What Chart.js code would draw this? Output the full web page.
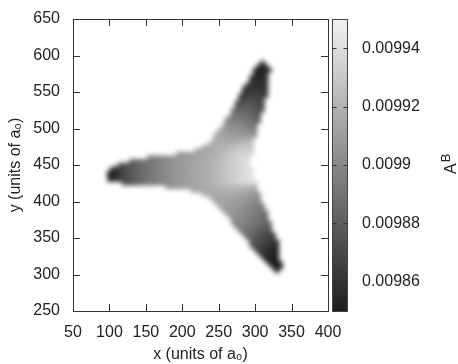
<!DOCTYPE html>
<html>
<head>
<meta charset="utf-8">
<script src="https://cdn.jsdelivr.net/npm/chart.js@4.4.1/dist/chart.umd.min.js"></script>
<style>
  html, body { margin: 0; padding: 0; background: #fff; }
  #wrap { width: 458px; height: 364px; }
</style>
</head>
<body>
<div id="wrap"><canvas id="map" width="458" height="364"></canvas></div>
<script>
// A^B map on a regular grid: one row per y (units of a0), cells every 5 in x.
// Values are A^B in units of 1e-6.
const cellStep = 5;
const rowY = [590, 585, 580, 575, 570, 565, 560, 555, 550, 545, 540, 535, 530, 525, 520, 515,
              510, 505, 500, 495, 490, 485, 480, 475, 470, 465, 460, 455, 450, 445, 440, 435,
              430, 425, 420, 415, 410, 405, 400, 395, 390, 385, 380, 375, 370, 365, 360, 355,
              350, 345, 340, 335, 330, 325, 320, 315, 310, 305];
const rowX0 = [310, 305, 300, 300, 295, 295, 290, 285, 285, 280, 280, 275, 275, 270, 270, 265,
               260, 260, 255, 250, 245, 245, 240, 230, 220, 195, 155, 130, 115, 105, 100, 100,
               100, 120, 180, 215, 230, 240, 245, 250, 255, 260, 265, 270, 270, 275, 280, 285,
               290, 295, 295, 300, 305, 310, 315, 320, 325, 330];
const rowValues = [
  [9852],
  [9853, 9852, 9853],
  [9854, 9852, 9852, 9853, 9855],
  [9854, 9853, 9853, 9854],
  [9856, 9855, 9854, 9855, 9856],
  [9858, 9857, 9856, 9856, 9857],
  [9859, 9859, 9858, 9858, 9858, 9859],
  [9858, 9860, 9861, 9860, 9860, 9860, 9861],
  [9858, 9860, 9863, 9864, 9863, 9862, 9862],
  [9860, 9862, 9866, 9868, 9867, 9865, 9864, 9863],
  [9864, 9867, 9871, 9872, 9870, 9868, 9866],
  [9868, 9870, 9874, 9876, 9875, 9872, 9870, 9868],
  [9876, 9876, 9878, 9880, 9879, 9876, 9873, 9870],
  [9883, 9883, 9883, 9884, 9883, 9880, 9877, 9874, 9871],
  [9888, 9888, 9888, 9887, 9885, 9882, 9879, 9876],
  [9894, 9893, 9892, 9891, 9890, 9888, 9885, 9882, 9879],
  [9900, 9899, 9897, 9896, 9895, 9893, 9891, 9888, 9885, 9883],
  [9904, 9903, 9901, 9900, 9899, 9897, 9895, 9893, 9890],
  [9908, 9907, 9906, 9904, 9903, 9902, 9900, 9899, 9897, 9894],
  [9912, 9911, 9910, 9908, 9907, 9906, 9905, 9904, 9903, 9902, 9900],
  [9915, 9914, 9913, 9912, 9911, 9910, 9909, 9908, 9908, 9908, 9908, 9907],
  [9916, 9916, 9915, 9914, 9913, 9913, 9913, 9914, 9915, 9917, 9918],
  [9917, 9917, 9917, 9916, 9916, 9916, 9917, 9918, 9920, 9922, 9924, 9926],
  [9914, 9915, 9916, 9917, 9918, 9920, 9922, 9924, 9926, 9928, 9930, 9931, 9930, 9928],
  [9912, 9913, 9914, 9915, 9916, 9917, 9918, 9920, 9922, 9924, 9926, 9928, 9930, 9932, 9933, 9931],
  [9904, 9906, 9908, 9909, 9911, 9912, 9913, 9914, 9916, 9917, 9919, 9921, 9924, 9926, 9929, 9931,
   9933, 9935, 9936, 9936, 9934],
  [9890, 9892, 9895, 9897, 9899, 9901, 9903, 9905, 9906, 9907, 9909, 9910, 9912, 9913, 9914, 9915,
   9917, 9918, 9920, 9922, 9925, 9927, 9930, 9932, 9934, 9936, 9938, 9938],
  [9877, 9880, 9883, 9886, 9889, 9891, 9893, 9896, 9898, 9900, 9902, 9904, 9906, 9907, 9908, 9910,
   9911, 9913, 9914, 9915, 9916, 9918, 9919, 9921, 9923, 9926, 9928, 9931, 9933, 9935, 9937, 9939, 9940],
  [9865, 9870, 9874, 9877, 9880, 9883, 9886, 9889, 9891, 9893, 9896, 9898, 9900, 9902, 9904, 9906,
   9907, 9908, 9910, 9911, 9913, 9914, 9915, 9916, 9918, 9919, 9921, 9923, 9926, 9928, 9931, 9933,
   9935, 9937, 9939, 9941],
  [9854, 9859, 9865, 9870, 9874, 9877, 9880, 9883, 9886, 9889, 9891, 9893, 9896, 9898, 9900, 9902,
   9904, 9906, 9907, 9908, 9910, 9911, 9913, 9914, 9915, 9916, 9918, 9919, 9921, 9923, 9926, 9928,
   9931, 9933, 9935, 9937, 9939, 9941, 9940],
  [9850, 9854, 9859, 9865, 9870, 9874, 9877, 9880, 9883, 9886, 9889, 9891, 9893, 9896, 9898, 9900,
   9902, 9904, 9906, 9907, 9908, 9910, 9911, 9913, 9914, 9915, 9916, 9918, 9919, 9921, 9923, 9926,
   9928, 9931, 9933, 9935, 9937, 9939, 9941, 9940],
  [9850, 9853, 9858, 9864, 9869, 9873, 9877, 9880, 9883, 9886, 9889, 9891, 9893, 9896, 9898, 9900,
   9902, 9904, 9906, 9907, 9908, 9910, 9911, 9913, 9914, 9915, 9916, 9918, 9919, 9921, 9923, 9926,
   9928, 9931, 9933, 9935, 9937, 9939, 9941, 9940],
  [9851, 9855, 9859, 9865, 9870, 9874, 9877, 9880, 9883, 9886, 9889, 9891, 9893, 9896, 9898, 9900,
   9902, 9904, 9906, 9907, 9908, 9910, 9911, 9913, 9914, 9915, 9916, 9918, 9919, 9921, 9923, 9926,
   9928, 9931, 9933, 9935, 9937, 9939, 9941, 9940],
  [9870, 9874, 9877, 9880, 9883, 9886, 9889, 9891, 9893, 9896, 9898, 9900, 9902, 9904, 9906, 9907,
   9908, 9910, 9911, 9913, 9914, 9915, 9916, 9918, 9919, 9921, 9923, 9926, 9928, 9931, 9933, 9935,
   9937, 9939, 9941, 9939, 9935],
  [9902, 9904, 9906, 9907, 9908, 9910, 9911, 9913, 9914, 9915, 9916, 9917, 9918, 9919, 9920, 9921,
   9922, 9923, 9924, 9924, 9925, 9925, 9924, 9922, 9918],
  [9912, 9913, 9914, 9915, 9916, 9917, 9918, 9918, 9919, 9919, 9920, 9920, 9920, 9919, 9918, 9916,
   9914, 9911],
  [9914, 9915, 9915, 9916, 9916, 9916, 9916, 9916, 9916, 9915, 9914, 9913, 9911, 9909, 9907, 9904],
  [9915, 9915, 9915, 9915, 9914, 9914, 9913, 9912, 9911, 9910, 9908, 9906, 9904, 9901],
  [9914, 9914, 9914, 9913, 9912, 9911, 9910, 9909, 9907, 9905, 9903, 9901, 9898],
  [9912, 9912, 9911, 9910, 9909, 9908, 9907, 9905, 9903, 9901, 9899, 9897, 9894],
  [9910, 9910, 9909, 9908, 9907, 9905, 9903, 9901, 9899, 9897, 9895, 9892],
  [9908, 9908, 9907, 9906, 9904, 9902, 9900, 9898, 9896, 9894, 9891, 9888],
  [9906, 9905, 9904, 9902, 9900, 9898, 9896, 9894, 9892, 9889, 9886],
  [9903, 9902, 9900, 9898, 9896, 9894, 9892, 9890, 9887, 9884],
  [9902, 9901, 9899, 9897, 9895, 9893, 9891, 9889, 9887, 9884, 9881],
  [9898, 9897, 9895, 9893, 9890, 9888, 9886, 9883, 9880, 9877],
  [9893, 9892, 9890, 9888, 9885, 9882, 9879, 9876, 9873],
  [9889, 9887, 9885, 9882, 9879, 9876, 9873, 9870, 9867],
  [9883, 9881, 9878, 9875, 9872, 9869, 9866, 9863],
  [9878, 9876, 9873, 9870, 9867, 9864, 9861, 9858],
  [9875, 9873, 9871, 9868, 9865, 9862, 9859, 9856],
  [9870, 9867, 9864, 9861, 9858, 9855, 9853],
  [9864, 9861, 9858, 9855, 9853, 9852],
  [9859, 9856, 9854, 9852, 9851],
  [9854, 9852, 9851, 9850],
  [9852, 9851, 9850, 9850],
  [9850, 9850, 9850],
  [9850]
];

const xTicks = [50, 100, 150, 200, 250, 300, 350, 400];
const yTicks = [250, 300, 350, 400, 450, 500, 550, 600, 650];
const cbTicks = [0.00986, 0.00988, 0.0099, 0.00992, 0.00994];
const cbMin = 0.00985;
const cbMax = 0.00995;

const FONT = "'Liberation Sans', Arial, Helvetica, sans-serif";
const INK = '#222';

// gray palette, dark at cbMin, light at cbMax
function grayFor(v) {
  const t = Math.min(1, Math.max(0, (v - cbMin) / (cbMax - cbMin)));
  const g = Math.round(30 + t * 212);
  return `rgb(${g},${g},${g})`;
}

const cells = [];
rowY.forEach((y, i) => {
  rowValues[i].forEach((v, j) => {
    cells.push({ x: rowX0[i] + j * cellStep, y: y, v: v * 1e-6 });
  });
});

// square side = one grid step in pixels (plus a hair so neighbours touch)
function cellRadius(ctx) {
  const s = ctx.chart.scales.x;
  const w = Math.abs(s.getPixelForValue(cellStep) - s.getPixelForValue(0)) + 0.8;
  return w / (2 * Math.SQRT1_2);
}

// one horizontal + vertical box pass over RGBA data
function boxPass(src, w, h, r) {
  const tmp = new Float32Array(src.length);
  const n = 2 * r + 1;
  for (let y = 0; y < h; y++) {
    for (let x = 0; x < w; x++) {
      for (let c = 0; c < 4; c++) {
        let s = 0;
        for (let k = -r; k <= r; k++) {
          const xx = Math.min(w - 1, Math.max(0, x + k));
          s += src[(y * w + xx) * 4 + c];
        }
        tmp[(y * w + x) * 4 + c] = s / n;
      }
    }
  }
  for (let y = 0; y < h; y++) {
    for (let x = 0; x < w; x++) {
      for (let c = 0; c < 4; c++) {
        let s = 0;
        for (let k = -r; k <= r; k++) {
          const yy = Math.min(h - 1, Math.max(0, y + k));
          s += tmp[(yy * w + x) * 4 + c];
        }
        src[(y * w + x) * 4 + c] = s / n;
      }
    }
  }
}

// smooth the cells the way the interpolated map looks
const softenCells = {
  id: 'softenCells',
  afterDatasetsDraw(chart) {
    const { ctx, chartArea: a } = chart;
    const x0 = Math.ceil(a.left) + 1, y0 = Math.ceil(a.top) + 1;
    const w = Math.floor(a.right) - x0 - 1, h = Math.floor(a.bottom) - y0 - 1;
    ctx.save();
    ctx.globalCompositeOperation = 'destination-over';
    ctx.fillStyle = '#fff';
    ctx.fillRect(x0, y0, w, h);
    ctx.restore();
    const img = ctx.getImageData(x0, y0, w, h);
    const buf = new Float32Array(img.data);
    for (let p = 0; p < 3; p++) boxPass(buf, w, h, 2);
    for (let i = 0; i < buf.length; i++) img.data[i] = Math.round(buf[i]);
    ctx.putImageData(img, x0, y0);
  }
};

// frame with inward ticks, the colour box and its label
const frameAndColorbox = {
  id: 'frameAndColorbox',
  afterDraw(chart) {
    const { ctx, chartArea: a, scales } = chart;
    const tick = 7;
    ctx.save();
    ctx.strokeStyle = '#333';
    ctx.lineWidth = 1;
    ctx.beginPath();
    xTicks.forEach(t => {
      const px = Math.round(scales.x.getPixelForValue(t)) + 0.5;
      ctx.moveTo(px, a.bottom); ctx.lineTo(px, a.bottom - tick);
      ctx.moveTo(px, a.top); ctx.lineTo(px, a.top + tick);
    });
    yTicks.forEach(t => {
      const py = Math.round(scales.y.getPixelForValue(t)) + 0.5;
      ctx.moveTo(a.left, py); ctx.lineTo(a.left + tick, py);
      ctx.moveTo(a.right, py); ctx.lineTo(a.right - tick, py);
    });
    ctx.stroke();
    ctx.strokeRect(Math.round(a.left) + 0.5, Math.round(a.top) + 0.5,
                   Math.round(a.right - a.left), Math.round(a.bottom - a.top));

    // colour box
    const cb = scales.cb;
    const bx = Math.round(a.right) + 4.5;
    const bw = 15;
    const yTop = cb.getPixelForValue(cbMax);
    const yBot = cb.getPixelForValue(cbMin);
    const grad = ctx.createLinearGradient(0, yBot, 0, yTop);
    grad.addColorStop(0, grayFor(cbMin));
    grad.addColorStop(1, grayFor(cbMax));
    ctx.fillStyle = grad;
    ctx.fillRect(bx, yTop, bw, yBot - yTop);
    ctx.strokeStyle = '#444';
    ctx.strokeRect(bx, Math.round(yTop) + 0.5, bw, Math.round(yBot - yTop));
    ctx.strokeStyle = '#333';
    ctx.beginPath();
    cbTicks.forEach(t => {
      const py = Math.round(cb.getPixelForValue(t)) + 0.5;
      ctx.moveTo(bx, py); ctx.lineTo(bx + 4, py);
      ctx.moveTo(bx + bw, py); ctx.lineTo(bx + bw - 4, py);
    });
    ctx.stroke();

    // A^B, rotated
    ctx.fillStyle = INK;
    ctx.translate(455.5, 174);
    ctx.rotate(-Math.PI / 2);
    ctx.textBaseline = 'alphabetic';
    ctx.textAlign = 'left';
    ctx.font = `16px ${FONT}`;
    ctx.fillText('A', 0, 0);
    const aw = ctx.measureText('A').width;
    ctx.font = `13px ${FONT}`;
    ctx.fillText('B', aw + 1, -6);
    ctx.restore();
  }
};

const tickFont = { family: FONT, size: 16 };

// vertical axes: keep the plot box at a fixed top/bottom
function trimPadding(s) {
  s.paddingTop = 0;
  s.paddingBottom = 0;
}

new Chart(document.getElementById('map'), {
  type: 'scatter',
  data: {
    datasets: [{
      data: cells,
      pointStyle: 'rect',
      pointRadius: cellRadius,
      pointHoverRadius: cellRadius,
      pointBorderWidth: 0,
      pointBackgroundColor: c => grayFor(c.raw ? c.raw.v : cbMin),
      pointBorderColor: 'rgba(0,0,0,0)'
    }]
  },
  options: {
    responsive: false,
    animation: false,
    events: [],
    layout: { padding: { top: 19, left: 0, right: 0, bottom: 0 } },
    plugins: { legend: { display: false }, tooltip: { enabled: false } },
    scales: {
      x: {
        type: 'linear', position: 'bottom', min: 50, max: 400, z: 1,
        afterBuildTicks: s => { s.ticks = xTicks.map(v => ({ value: v })); },
        afterFit: s => { s.height = 53; s.paddingLeft = 0; s.paddingRight = 0; },
        grid: { display: false, drawTicks: false },
        border: { display: false },
        ticks: { font: tickFont, color: INK, padding: 12, maxRotation: 0, callback: v => String(v) },
        title: { display: true, text: 'x (units of a\u2080)', font: tickFont, color: INK,
                 padding: { top: 0, bottom: 0 } }
      },
      y: {
        type: 'linear', position: 'left', min: 250, max: 650, z: 1,
        afterBuildTicks: s => { s.ticks = yTicks.map(v => ({ value: v })); },
        afterFit: s => { s.width = 73; trimPadding(s); },
        grid: { display: false, drawTicks: false },
        border: { display: false },
        ticks: { font: tickFont, color: INK, padding: 13, callback: v => String(v) },
        title: { display: true, text: 'y (units of a\u2080)', font: tickFont, color: INK,
                 padding: { top: 6, bottom: 0 } }
      },
      cb: {
        type: 'linear', position: 'right', min: cbMin, max: cbMax, z: 1,
        afterBuildTicks: s => { s.ticks = cbTicks.map(v => ({ value: v })); },
        afterFit: s => { s.width = 130; trimPadding(s); },
        grid: { display: false, drawTicks: false },
        border: { display: false },
        ticks: { font: tickFont, color: INK, padding: 34, callback: v => String(v) }
      }
    }
  },
  plugins: [softenCells, frameAndColorbox]
});
</script>
</body>
</html>
